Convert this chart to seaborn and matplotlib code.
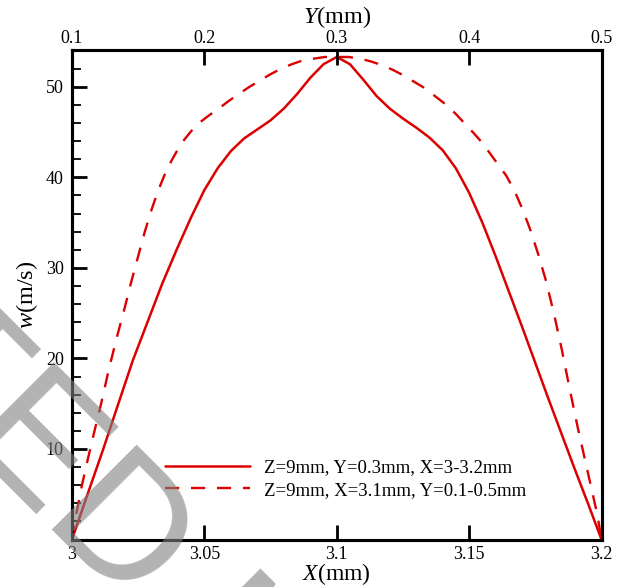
import matplotlib
matplotlib.use("Agg")
import matplotlib.pyplot as plt
import seaborn as sns
from matplotlib.ticker import FixedLocator, MultipleLocator
from matplotlib.lines import Line2D

# Velocity profile along X (Z=9mm, Y=0.3mm)
x_mm = [3.000, 3.006, 3.0117, 3.0175, 3.023, 3.0285, 3.034, 3.0395, 3.045, 3.050,
        3.055, 3.060, 3.065, 3.070, 3.075, 3.080, 3.085, 3.090, 3.095, 3.100,
        3.105, 3.110, 3.115, 3.120, 3.125, 3.130, 3.135, 3.140, 3.145, 3.150,
        3.155, 3.160, 3.165, 3.170, 3.175, 3.180, 3.185, 3.190, 3.195, 3.200]
w_along_x = [0.0, 5.1, 9.9, 15.0, 19.8, 24.0, 28.2, 32.0, 35.6, 38.6,
             41.0, 42.9, 44.3, 45.3, 46.3, 47.6, 49.2, 51.0, 52.5, 53.3,
             52.5, 50.8, 49.0, 47.6, 46.5, 45.5, 44.4, 43.0, 41.0, 38.3,
             35.0, 31.3, 27.4, 23.5, 19.5, 15.5, 11.6, 7.7, 3.9, 0.0]

# Velocity profile along Y (Z=9mm, X=3.1mm)
y_mm = [0.100, 0.1035, 0.1075, 0.112, 0.117, 0.122, 0.128, 0.134, 0.140, 0.145,
        0.150, 0.155, 0.160, 0.165, 0.170, 0.175, 0.180, 0.185, 0.190, 0.196,
        0.203, 0.210, 0.218, 0.226, 0.234, 0.242, 0.250, 0.258, 0.266, 0.274,
        0.282, 0.291, 0.300, 0.309, 0.318, 0.326, 0.334, 0.342, 0.350, 0.358,
        0.366, 0.374, 0.382, 0.390, 0.397, 0.404, 0.410, 0.416, 0.422, 0.428,
        0.434, 0.440, 0.446, 0.452, 0.458, 0.464, 0.470, 0.476, 0.482, 0.488,
        0.494, 0.497, 0.500]
w_along_y = [0.0, 3.0, 6.0, 8.9, 12.0, 15.0, 18.9, 22.4, 25.7, 28.6,
             31.3, 34.0, 36.4, 38.5, 40.3, 41.8, 43.1, 44.2, 45.1, 46.0,
             46.8, 47.5, 48.4, 49.2, 50.0, 50.7, 51.4, 52.0, 52.5, 52.9,
             53.1, 53.3, 53.3, 53.3, 53.1, 52.8, 52.4, 51.9, 51.3, 50.6,
             49.9, 49.0, 48.1, 47.0, 45.9, 44.8, 43.8, 42.6, 41.4, 40.2,
             38.6, 36.6, 34.3, 31.6, 28.6, 25.0, 21.0, 16.6, 12.4, 8.5,
             4.6, 2.6, 0.0]

x_ticks = [3.0, 3.05, 3.1, 3.15, 3.2]
x_tick_labels = ["3", "3.05", "3.1", "3.15", "3.2"]
top_ticks = [0.1, 0.2, 0.3, 0.4, 0.5]
top_tick_labels = ["0.1", "0.2", "0.3", "0.4", "0.5"]
w_ticks = [10, 20, 30, 40, 50]
legend_labels = ["Z=9mm, Y=0.3mm, X=3-3.2mm", "Z=9mm, X=3.1mm, Y=0.1-0.5mm"]

red = "#dc0000"
dash = (0, (6, 5))

sns.set_style("ticks")
plt.rcParams["font.family"] = ["Liberation Serif", "DejaVu Serif"]
plt.rcParams["mathtext.fontset"] = "custom"
plt.rcParams["mathtext.rm"] = "Liberation Serif"
plt.rcParams["mathtext.it"] = "Liberation Serif:italic"
plt.rcParams["text.color"] = "black"
plt.rcParams["axes.labelcolor"] = "black"
plt.rcParams["xtick.color"] = "black"
plt.rcParams["ytick.color"] = "black"

fig = plt.figure(figsize=(6.25, 5.87), dpi=100)
ax = fig.add_axes([72 / 625, 47.5 / 587, 529.5 / 625, 489.5 / 587])
ax2 = ax.twiny()

sns.lineplot(x=x_mm, y=w_along_x, ax=ax, color=red, linewidth=1.8,
             sort=False, estimator=None)
sns.lineplot(x=y_mm, y=w_along_y, ax=ax2, color=red, linewidth=1.7,
             linestyle=dash, sort=False, estimator=None)

ax.set_xlim(3.0, 3.2)
ax.set_ylim(0, 54.07)
ax2.set_xlim(0.1, 0.5)

ax.xaxis.set_major_locator(FixedLocator(x_ticks))
ax.set_xticklabels(x_tick_labels)
ax.yaxis.set_major_locator(FixedLocator(w_ticks))
ax.yaxis.set_minor_locator(MultipleLocator(2))
ax2.xaxis.set_major_locator(FixedLocator(top_ticks))
ax2.set_xticklabels(top_tick_labels)

ax.tick_params(axis="x", which="major", direction="in", length=11, width=2,
               labelsize=13, pad=5, top=False, colors="black")
ax.tick_params(axis="y", which="major", direction="in", length=11, width=2,
               labelsize=13, pad=6, right=False, colors="black")
ax.tick_params(axis="y", which="minor", direction="in", length=6.5, width=1.3,
               right=False, colors="black")
ax2.tick_params(axis="x", which="major", direction="in", length=11, width=2,
                labelsize=13, pad=2, top=True, bottom=False, colors="black")

for a in (ax, ax2):
    for side in ("left", "right", "top", "bottom"):
        a.spines[side].set_visible(True)
        a.spines[side].set_linewidth(2.2)
        a.spines[side].set_color("black")

ax.set_xlabel(r"$X$(mm)", fontsize=17, labelpad=-2)
ax.set_ylabel(r"$w$(m/s)", fontsize=17.5, labelpad=4)
ax2.set_xlabel(r"$Y$(mm)", fontsize=17.5, labelpad=5)

handles = [Line2D([], [], color=red, linewidth=1.8),
           Line2D([], [], color=red, linewidth=1.7, linestyle=dash)]
ax2.legend(handles, legend_labels, loc="center left",
           bbox_to_anchor=(0.1756, 0.1236), frameon=False, fontsize=13.5,
           handlelength=4.55, handletextpad=0.75, labelspacing=0.3,
           borderpad=0, borderaxespad=0)

fig.text(-0.870, 1.112, "ACCEPTED MANUSCRIPT", rotation=-45,
         rotation_mode="anchor", ha="left", va="baseline", fontsize=126,
         family="Liberation Sans", color="0.5", alpha=0.6, zorder=10)

fig.savefig("out.png", dpi=100)
